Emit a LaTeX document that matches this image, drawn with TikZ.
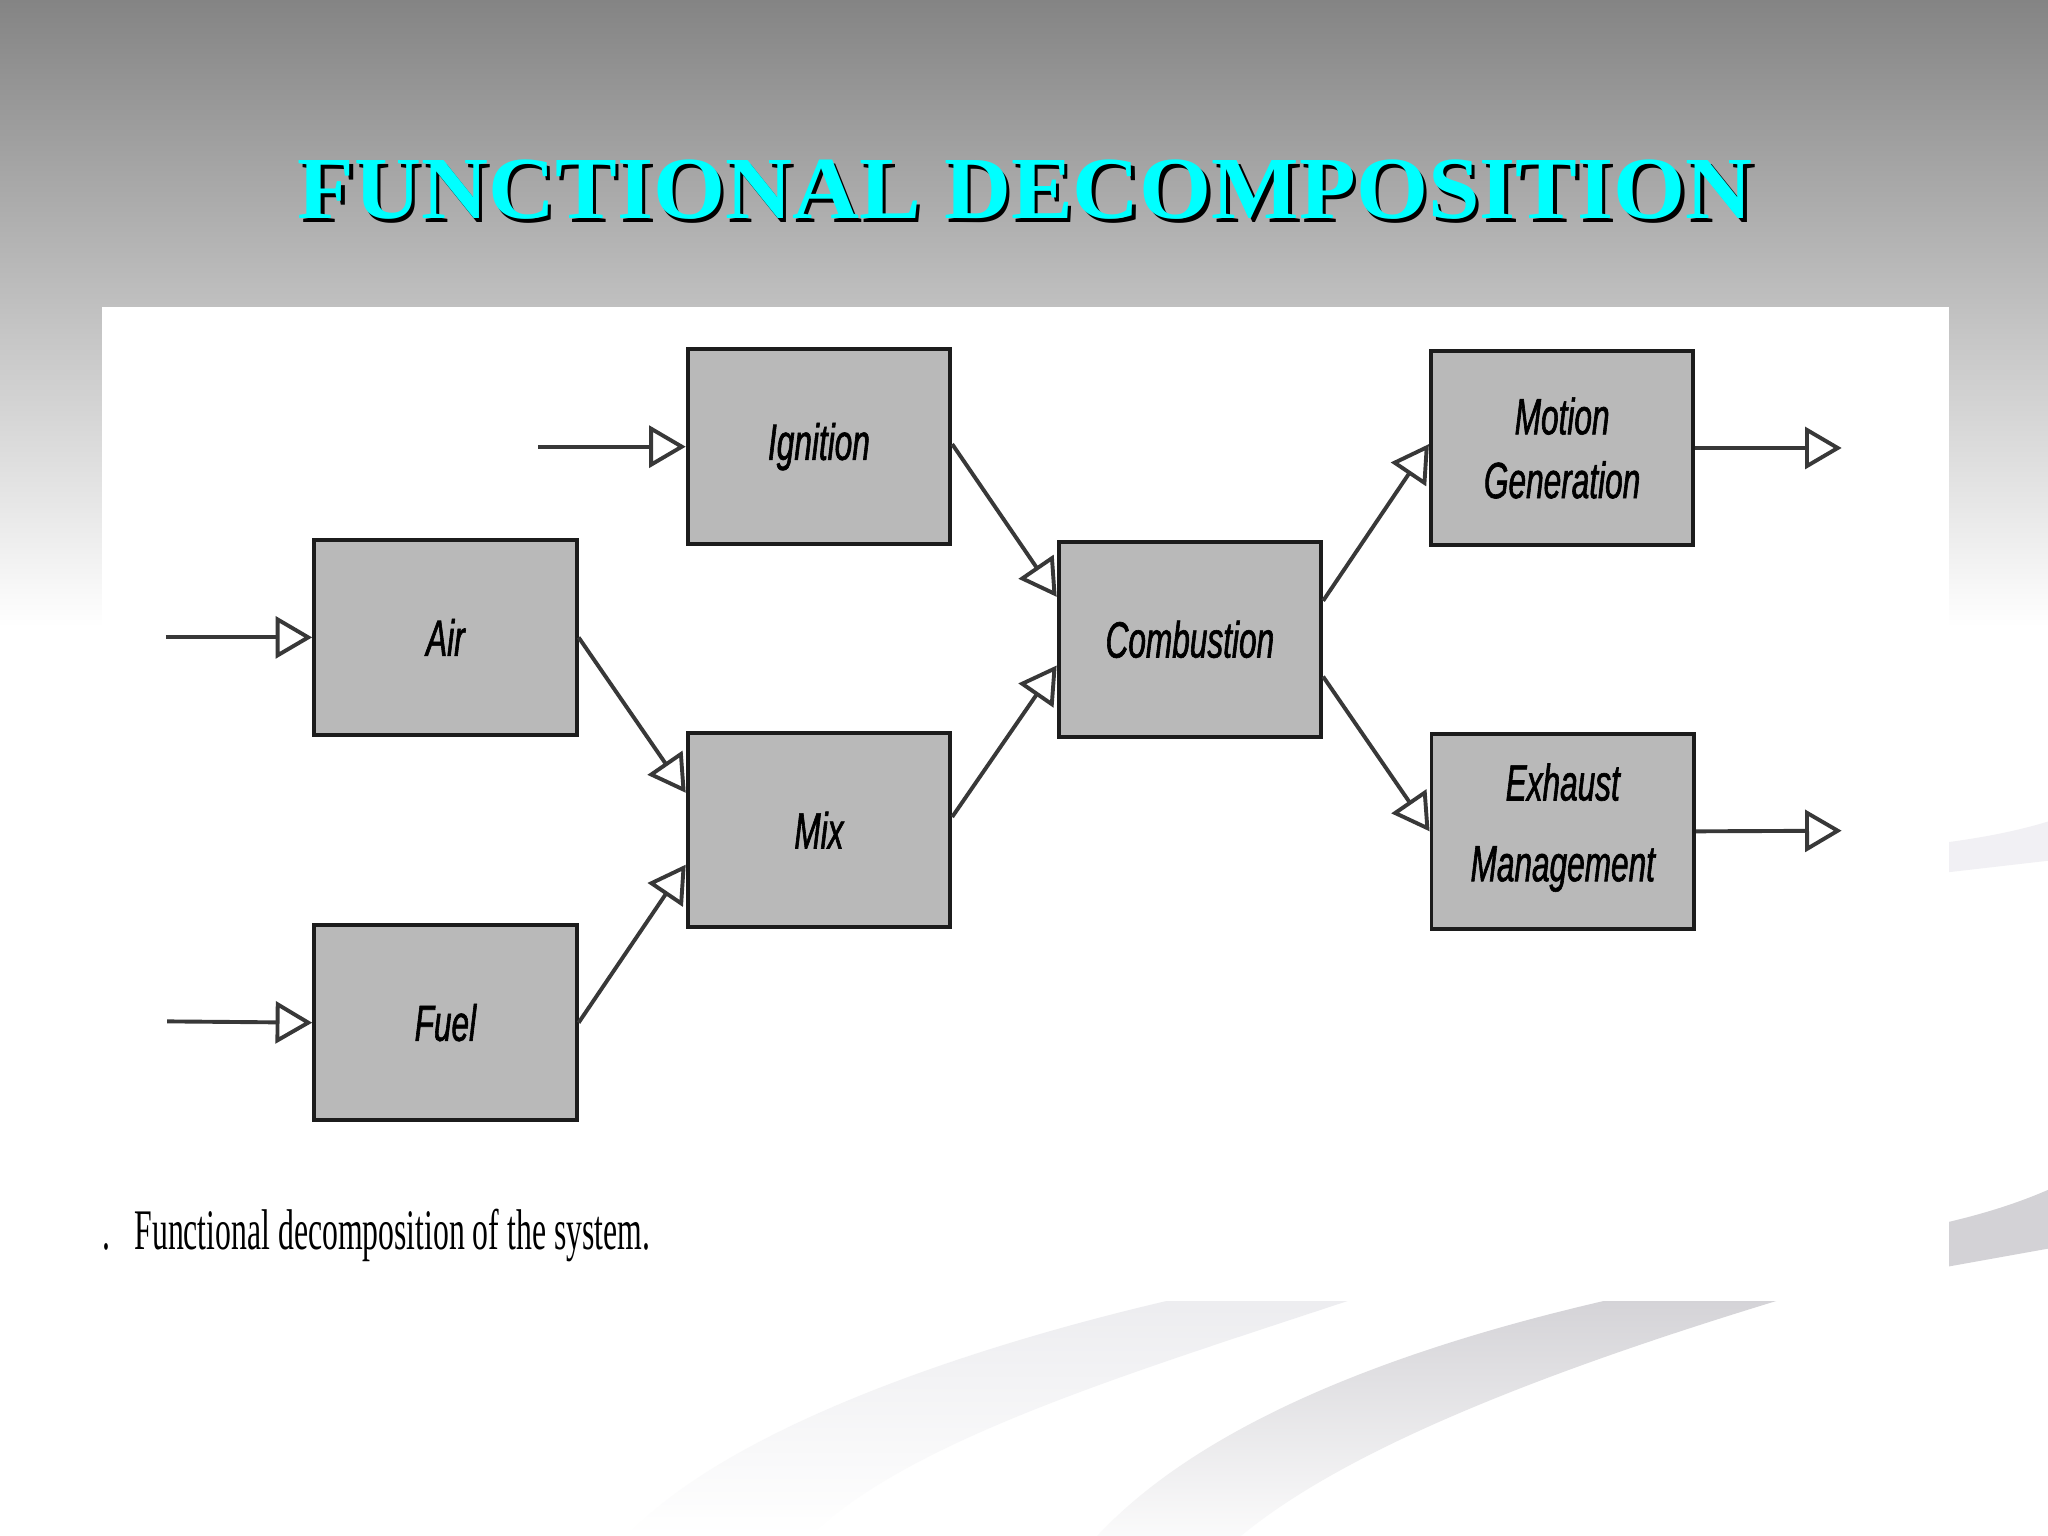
\documentclass[tikz,border=0pt]{standalone}
\usepackage{graphicx}
\usepackage{fontspec}
\setmainfont{Liberation Serif}
\newfontfamily\lblfont[FakeStretch=0.62, FakeBold=1.2]{Liberation Sans}
\usetikzlibrary{arrows.meta}
\definecolor{bgtop}{HTML}{848484}
\definecolor{boxfill}{HTML}{B9B9B9}
\definecolor{boxline}{HTML}{1C1C1C}
\definecolor{linkgray}{HTML}{383838}
\definecolor{titlecyan}{HTML}{00FFFF}
\definecolor{swooshA}{HTML}{ECECEF}
\definecolor{swooshB}{HTML}{D3D2D6}
\definecolor{swooshC}{HTML}{F1F0F4}
\begin{document}
\begin{tikzpicture}[
  fblock/.style={draw=boxline, line width=0.85pt, fill=boxfill, minimum width=2.01cm, minimum height=1.49cm, inner sep=0pt, align=center, font=\lblfont\itshape\fontsize{11.1}{13.9}\selectfont, text=black},
  flow/.style={draw=linkgray, line width=0.85pt, -{Triangle[open, length=2.8mm, width=3.2mm]}},
  titletext/.style={anchor=base, inner sep=0pt, font=\fontsize{19.3}{23}\selectfont\bfseries},
]
\useasboundingbox (0,0) rectangle (15.68,-11.76);
\fill[white] (0,0) rectangle (15.68,-11.76);
\shade[top color=bgtop, bottom color=white] (0,0) rectangle (15.68,-4.8);
% swooshes
\shade[top color=swooshA, bottom color=white] (9.2,-9.9) -- (10.5,-9.9) .. controls (8.7,-10.5) and (7.0,-11.0) .. (6.2,-11.76) -- (4.8,-11.76) .. controls (5.6,-10.9) and (7.6,-10.25) .. (9.2,-9.9) -- cycle;
\shade[top color=swooshB, bottom color=white!90!swooshB] (12.55,-9.9) -- (13.8,-9.9) .. controls (11.8,-10.5) and (10.3,-11.1) .. (9.5,-11.76) -- (8.4,-11.76) .. controls (9.2,-10.9) and (10.7,-10.3) .. (12.55,-9.9) -- cycle;
\fill[swooshC] (14.9,-6.45) .. controls (15.2,-6.41) and (15.45,-6.36) .. (15.68,-6.29) -- (15.68,-6.59) -- (14.9,-6.68) -- cycle;
\fill[swooshB] (14.9,-9.36) .. controls (15.2,-9.29) and (15.45,-9.21) .. (15.68,-9.11) -- (15.68,-9.56) -- (14.9,-9.70) -- cycle;
% panel
\fill[white] (0.78,-2.35) rectangle (14.92,-9.96);
% title
\node[titletext, text=black] (titleshadow) at (7.875,-1.70) {\resizebox{11.14cm}{\height}{FUNCTIONAL DECOMPOSITION}};
\node[titletext, text=titlecyan] (title) at (7.85,-1.67) {\resizebox{11.14cm}{\height}{FUNCTIONAL DECOMPOSITION}};
% blocks
\node[fblock] (ign) at (6.27,-3.42) {Ignition};
\node[fblock] (air) at (3.41,-4.88) {Air};
\node[fblock] (mix) at (6.27,-6.355) {Mix};
\node[fblock] (fuel) at (3.41,-7.83) {Fuel};
\node[fblock] (comb) at (9.11,-4.895) {Combustion};
\node[fblock] (motion) at (11.96,-3.43) {Motion\\Generation};
\node[fblock] (exhaust) at (11.965,-6.365) {Exhaust\\[3.7pt]Management\\[-10pt]\mbox{}};
% free ends
\coordinate (ignin) at (4.12,-3.42);
\coordinate (airin) at (1.27,-4.88);
\coordinate (fuelin) at (1.28,-7.82);
\coordinate (motout) at (14.10,-3.43);
\coordinate (exhout) at (14.10,-6.36);
% connectors
\draw[flow] (ignin) -- (ign.west);
\draw[flow] (airin) -- (air.west);
\draw[flow] (fuelin) -- (fuel.west);
\draw[flow] (air.east) -- ([yshift=2.85mm]mix.west);
\draw[flow] (fuel.east) -- ([yshift=-2.65mm]mix.west);
\draw[flow] ([yshift=0.2mm]ign.east) -- ([yshift=3.25mm]comb.west);
\draw[flow] ([yshift=1mm]mix.east) -- ([yshift=-2mm]comb.west);
\draw[flow] ([yshift=2.95mm]comb.east) -- ([yshift=0.3mm]motion.west);
\draw[flow] ([yshift=-2.85mm]comb.east) -- (exhaust.west);
\draw[flow] (motion.east) -- (motout);
\draw[flow] (exhaust.east) -- (exhout);
% caption
\node[anchor=base west, inner sep=0pt] (caption) at (0.78,-9.57) {\resizebox{4.19cm}{\height}{\fontsize{12.5}{15}\selectfont .\hspace{0.75em}Functional decomposition of the system.}};
\end{tikzpicture}
\end{document}
